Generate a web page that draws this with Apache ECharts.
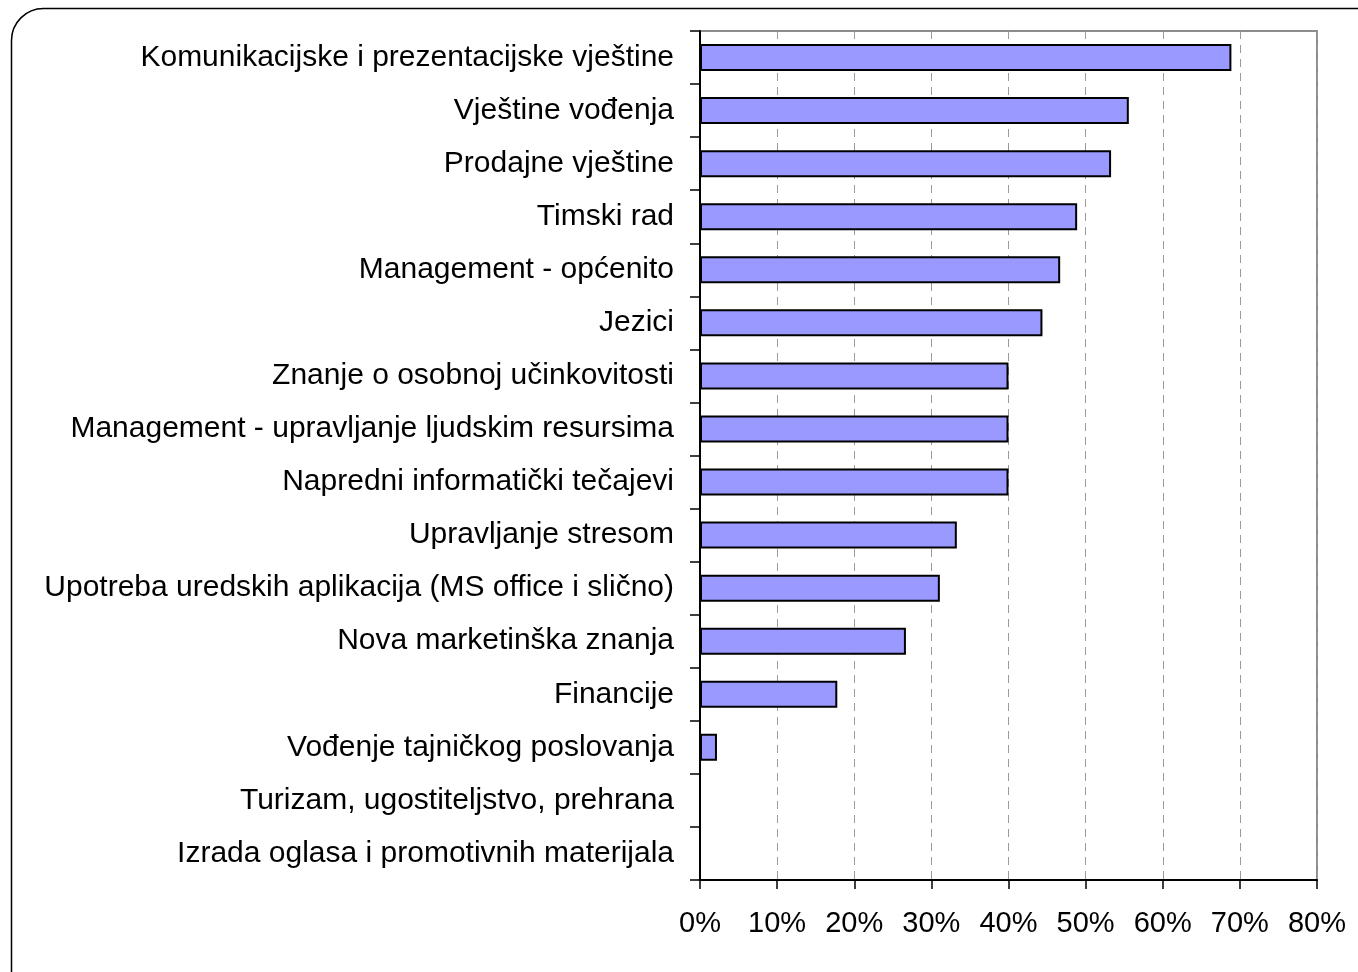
<!DOCTYPE html>
<html>
<head>
<meta charset="utf-8">
<script src="https://cdn.jsdelivr.net/npm/echarts@6/dist/echarts.min.js"></script>
<style>
  html, body { margin: 0; padding: 0; background: #fff; }
  #chart { width: 1358px; height: 972px; }
</style>
</head>
<body>
<div id="chart"></div>
<script>
// categories listed bottom to top (ECharts category axis starts at the bottom)
const skills = [
  'Izrada oglasa i promotivnih materijala',
  'Turizam, ugostiteljstvo, prehrana',
  'Vođenje tajničkog poslovanja',
  'Financije',
  'Nova marketinška znanja',
  'Upotreba uredskih aplikacija (MS office i slično)',
  'Upravljanje stresom',
  'Napredni informatički tečajevi',
  'Management - upravljanje ljudskim resursima',
  'Znanje o osobnoj učinkovitosti',
  'Jezici',
  'Management - općenito',
  'Timski rad',
  'Prodajne vještine',
  'Vještine vođenja',
  'Komunikacijske i prezentacijske vještine'
];

// share of respondents, %
const shares = [0, 0, 2.2, 17.8, 26.7, 31.1, 33.3, 40.0, 40.0, 40.0, 44.4, 46.7, 48.9, 53.3, 55.6, 68.9];

const xTicks = [0, 10, 20, 30, 40, 50, 60, 70, 80];

const font = '"Liberation Sans", Arial, sans-serif';

const chart = echarts.init(document.getElementById('chart'), null, { renderer: 'canvas' });

chart.setOption({
  backgroundColor: '#fff',
  animation: false,
  graphic: [{
    type: 'rect',
    left: 9, top: 6,
    shape: { width: 1400, height: 1000, r: 32 },
    style: { fill: 'none', stroke: '#000', lineWidth: 1.5 },
    z: -1
  }],
  grid: {
    left: 700, top: 31, width: 617, height: 849,
    show: true,
    backgroundColor: 'transparent',
    borderColor: '#8c8c8c',
    borderWidth: 2
  },
  xAxis: {
    type: 'value',
    min: 0, max: 80, interval: 10,
    axisLine: { show: true, lineStyle: { color: '#000', width: 2 } },
    axisTick: { show: true, length: 9, lineStyle: { color: '#000', width: 1.5 } },
    splitLine: {
      show: true,
      lineStyle: { color: '#9a9a9a', type: [8, 6], width: 1 }
    },
    axisLabel: {
      margin: 29,
      fontFamily: font, fontSize: 29, color: '#000',
      formatter: v => xTicks.includes(v) ? v + '%' : ''
    }
  },
  yAxis: {
    type: 'category',
    data: skills,
    axisLine: { show: true, lineStyle: { color: '#000', width: 2 } },
    axisTick: { show: true, length: 10, alignWithLabel: false, lineStyle: { color: '#000', width: 1.5 } },
    splitLine: { show: false },
    axisLabel: {
      margin: 26,
      fontFamily: font, fontSize: 30, color: '#000'
    }
  },
  series: [{
    type: 'bar',
    data: shares,
    barWidth: 27,
    itemStyle: { color: '#9999ff', borderColor: '#000', borderWidth: 2 },
    z: 3
  }]
});
</script>
</body>
</html>
